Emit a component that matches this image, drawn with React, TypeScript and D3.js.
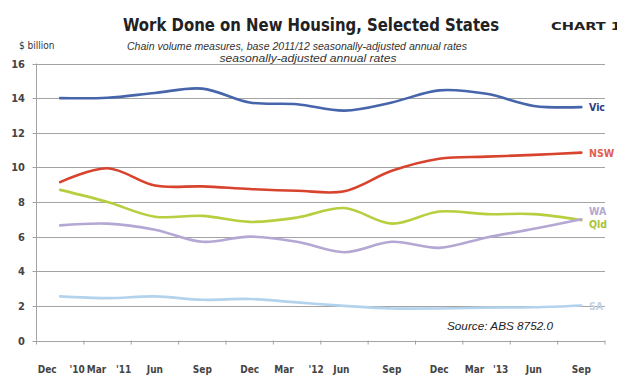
import React from "react";
import * as d3 from "d3";

const quarters = ["Dec 10", "Mar 11", "Jun 11", "Sep 11", "Dec 11", "Mar 12", "Jun 12", "Sep 12", "Dec 12", "Mar 13", "Jun 13", "Sep 13"];
const monthLabels = ["Dec", "Mar", "Jun", "Sep", "Dec", "Mar", "Jun", "Sep", "Dec", "Mar", "Jun", "Sep"];
const yearLabels = ["'10", "'11", "'12", "'13"];
const yTicks = [0, 2, 4, 6, 8, 10, 12, 14, 16];

const vic = [14.0, 14.02, 14.3, 14.55, 13.75, 13.65, 13.28, 13.75, 14.45, 14.25, 13.55, 13.48];
const nsw = [9.15, 9.95, 8.95, 8.9, 8.75, 8.65, 8.62, 9.8, 10.5, 10.62, 10.72, 10.85];
const qld = [8.7, 8.0, 7.15, 7.2, 6.85, 7.1, 7.65, 6.75, 7.45, 7.3, 7.3, 6.95];
const wa = [6.65, 6.75, 6.4, 5.7, 6.0, 5.7, 5.1, 5.7, 5.35, 5.95, 6.45, 7.0];
const sa = [2.55, 2.45, 2.55, 2.35, 2.4, 2.2, 2.0, 1.85, 1.85, 1.9, 1.92, 2.02];

const seriesNames = ["Vic", "NSW", "Qld", "WA", "SA"];
const seriesValues = [vic, nsw, qld, wa, sa];

// styling / layout (not data)
const lineColors = ["#4665ab", "#d8432e", "#b6cf3e", "#b4a7d4", "#b3d2ec"];
const labelColors = ["#2d3a80", "#e0604e", "#a9c23a", "#b3a7d2", "#c3d3e3"];
const labelDy = [0, 0, 4, -8, 0];
const monthShift = [-13, -11, 0, 0, 0, -13, -3, 0, 0, -12, 0, 0];
const yearAnchor = [0, 1, 5, 9];
const yearShift = [17, 16, 19, 14];

export default function App() {
  const W = 617, H = 376;
  const left = 36.5, right = 605, top = 63.5, bottom = 340.5;

  const x = d3.scaleBand<string>().domain(quarters).range([left, right]);
  const xc = (i: number) => (x(quarters[i]) as number) + x.bandwidth() / 2;
  const y = d3.scaleLinear().domain([0, 16]).range([bottom, top]);

  const line = d3
    .line<number>()
    .x((_, i) => xc(i))
    .y((d) => y(d))
    .curve(d3.curveCatmullRom.alpha(0.5));

  const tickEdges = quarters.map((q) => x(q) as number).concat([right]);
  const tickFont = "'DejaVu Sans Condensed', 'DejaVu Sans', sans-serif";

  return (
    <svg width={W} height={H} style={{ position: "absolute", left: 0, top: 0, background: "#fff" }}>
      <rect width={W} height={H} fill="#fff" />
      {/* titles */}
      <text x={311} y={31} textAnchor="middle" fontFamily={tickFont} fontWeight="bold" fontSize={18} fill="#222" textLength={376} lengthAdjust="spacingAndGlyphs">
        Work Done on New Housing, Selected States
      </text>
      <text x={551} y={30} fontFamily={tickFont} fontWeight="bold" fontSize={11} fill="#222" textLength={70} lengthAdjust="spacingAndGlyphs">
        CHART 1
      </text>
      <text x={297} y={50} textAnchor="middle" fontFamily="'Liberation Sans', Arial, sans-serif" fontStyle="italic" fontSize={10} fill="#333" textLength={340} lengthAdjust="spacingAndGlyphs">
        Chain volume measures, base 2011/12 seasonally-adjusted annual rates
      </text>
      <text x={308} y={62} textAnchor="middle" fontFamily="'Liberation Sans', Arial, sans-serif" fontStyle="italic" fontSize={10} fill="#333" textLength={177} lengthAdjust="spacingAndGlyphs">
        seasonally-adjusted annual rates
      </text>
      <text x={19} y={49} fontFamily={tickFont} fontSize={10} fill="#333">
        $ billion
      </text>

      {/* gridlines */}
      {yTicks.map((t) => (
        <g key={t}>
          <line x1={left - 4} x2={right} y1={Math.round(y(t)) + 0.5} y2={Math.round(y(t)) + 0.5} stroke="#a3a3a3" strokeWidth={1} />
          <text x={25} y={y(t) + 4} textAnchor="end" fontFamily={tickFont} fontWeight="bold" fontSize={11} fill="#444">
            {t}
          </text>
        </g>
      ))}
      <line x1={left} x2={left} y1={top} y2={bottom} stroke="#a3a3a3" strokeWidth={1} />

      {/* x ticks */}
      {tickEdges.map((e, i) => (
        <line key={i} x1={e} x2={e} y1={bottom} y2={bottom + 4} stroke="#a3a3a3" strokeWidth={1} />
      ))}
      {monthLabels.map((m, i) => (
        <text key={"m" + i} x={xc(i) + monthShift[i]} y={373} textAnchor="middle" fontFamily={tickFont} fontWeight="bold" fontSize={10} fill="#444">
          {m}
        </text>
      ))}
      {yearLabels.map((yl, i) => (
        <text key={"y" + i} x={xc(yearAnchor[i]) + yearShift[i]} y={373} textAnchor="middle" fontFamily={tickFont} fontWeight="bold" fontSize={10} fill="#444">
          {yl}
        </text>
      ))}

      {/* series */}
      {seriesValues.map((vals, s) => (
        <path key={seriesNames[s]} d={line(vals) || ""} fill="none" stroke={lineColors[s]} strokeWidth={2.6} strokeLinecap="round" />
      ))}
      {seriesValues.map((vals, s) => (
        <text key={"l" + s} x={589} y={y(vals[vals.length - 1]) + 4 + labelDy[s]} fontFamily={tickFont} fontWeight="bold" fontSize={10.5} fill={labelColors[s]}>
          {seriesNames[s]}
        </text>
      ))}

      <text x={447} y={330} fontFamily="'Liberation Sans', Arial, sans-serif" fontStyle="italic" fontSize={11} fill="#222" textLength={106} lengthAdjust="spacingAndGlyphs">
        Source: ABS 8752.0
      </text>
    </svg>
  );
}
